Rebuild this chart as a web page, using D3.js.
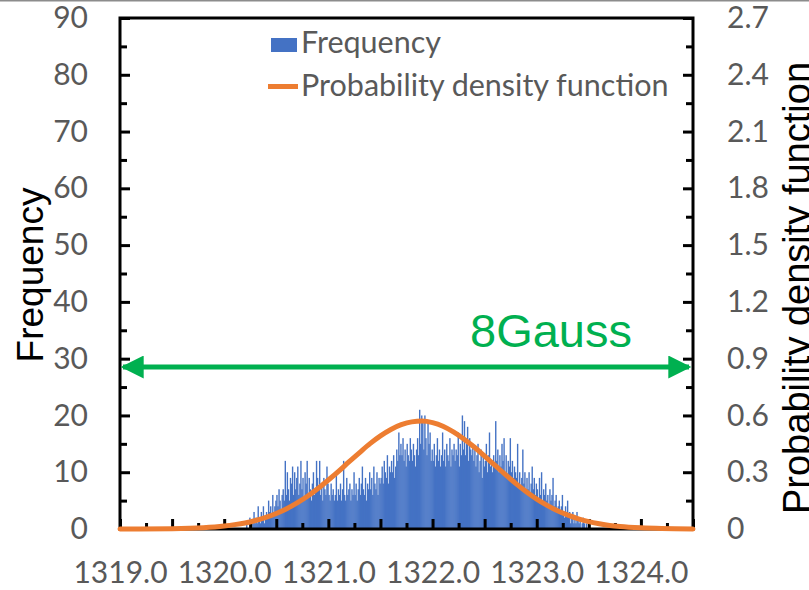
<!DOCTYPE html>
<html>
<head>
<meta charset="utf-8">
<script src="https://cdn.jsdelivr.net/npm/d3@7"></script>
<style>
    body { margin: 0; background: #fff; }
    svg { display: block; }
    .tick text { font-family: Lato, "Open Sans", sans-serif; font-size: 30px; fill: #595959; }
    .tick line { stroke: #000; stroke-width: 3; }
</style>
</head>
<body>
<svg id="chart"></svg>
<script>
// Histogram counts, one per 0.01 wide bin starting at 1320.20.
let binStart = 1320.20;
let binWidth = 0.01;
let counts = [
    0, 1, 0, 0, 2, 1, 0, 1, 3, 1,
    2, 1, 4, 2, 1, 3, 2, 4, 1, 2,
    3, 2, 5, 3, 4, 2, 6, 3, 4, 5,
    6, 4, 7, 5, 3, 6, 7, 5, 12, 6,
    10, 7, 5, 9, 8, 11, 6, 10, 7, 9,
    11, 6, 8, 12, 7, 9, 5, 10, 8, 12,
    6, 9, 7, 5, 8, 10, 6, 7, 12, 9,
    7, 12, 6, 8, 5, 9, 7, 6, 11, 8,
    6, 5, 8, 6, 7, 5, 6, 10, 5, 7,
    6, 8, 5, 7, 12, 6, 5, 9, 6, 7,
    8, 5, 7, 6, 10, 6, 8, 5, 7, 9,
    6, 8, 11, 7, 6, 9, 5, 8, 7, 10,
    7, 9, 6, 11, 8, 7, 10, 6, 9, 8,
    9, 11, 8, 12, 10, 9, 13, 8, 11, 10,
    12, 10, 13, 9, 11, 14, 12, 17, 13, 15,
    13, 16, 12, 14, 11, 15, 13, 12, 16, 14,
    12, 15, 13, 11, 14, 16, 13, 21, 15, 20,
    19, 14, 20, 16, 13, 19, 15, 17, 12, 14,
    12, 15, 11, 13, 16, 12, 14, 11, 13, 17,
    12, 14, 11, 15, 13, 12, 16, 11, 14, 13,
    15, 12, 14, 13, 17, 11, 15, 13, 20, 14,
    19, 13, 15, 18, 12, 16, 14, 13, 15, 12,
    14, 11, 13, 15, 10, 12, 14, 9, 13, 11,
    12, 15, 10, 13, 17, 11, 12, 10, 13, 11,
    19, 12, 14, 10, 13, 11, 15, 12, 16, 10,
    13, 9, 12, 11, 16, 10, 12, 9, 11, 10,
    9, 15, 8, 10, 7, 9, 14, 8, 10, 7,
    9, 7, 10, 6, 8, 11, 7, 9, 6, 8,
    7, 5, 9, 6, 10, 5, 7, 6, 8, 5,
    6, 4, 7, 5, 6, 9, 4, 5, 6, 3,
    4, 5, 3, 4, 6, 3, 2, 4, 3, 5,
    2, 3, 1, 2, 3, 1, 2, 1, 3, 2,
    1, 2, 0, 1, 2, 1, 0, 1, 0, 1
];

// Probability density function.
let pdfX = [1319.0, 1319.5, 1319.8, 1320.0, 1320.1, 1320.2, 1320.3, 1320.4, 1320.5, 1320.6,
    1320.7, 1320.8, 1320.9, 1321.0, 1321.1, 1321.2, 1321.3, 1321.4, 1321.5, 1321.6,
    1321.7, 1321.8, 1321.9, 1322.0, 1322.1, 1322.2, 1322.3, 1322.4, 1322.5, 1322.6,
    1322.7, 1322.8, 1322.9, 1323.0, 1323.1, 1323.2, 1323.3, 1323.4, 1323.5, 1323.6,
    1323.7, 1323.8, 1324.0, 1324.2, 1324.5];
let pdfY = [0.0001, 0.0018, 0.007, 0.016, 0.023, 0.032, 0.045, 0.061, 0.082, 0.107,
    0.138, 0.173, 0.214, 0.259, 0.306, 0.356, 0.404, 0.451, 0.492, 0.526,
    0.551, 0.566, 0.570, 0.562, 0.543, 0.513, 0.476, 0.433, 0.385, 0.336,
    0.287, 0.240, 0.197, 0.158, 0.125, 0.096, 0.073, 0.054, 0.039, 0.028,
    0.019, 0.013, 0.006, 0.0024, 0.0005];

let xTicks = [1319.0, 1320.0, 1321.0, 1322.0, 1323.0, 1324.0];
let leftTicks = [0, 10, 20, 30, 40, 50, 60, 70, 80, 90];
let rightTicks = [0, 0.3, 0.6, 0.9, 1.2, 1.5, 1.8, 2.1, 2.4, 2.7];

let svgWidth = 809;
let svgHeight = 590;
let margin = {top: 18, bottom: 61, left: 120, right: 116};
let viewWidth = svgWidth - margin.left - margin.right;
let viewHeight = svgHeight - margin.top - margin.bottom;

let svg = d3.select("#chart")
    .attr("width", svgWidth)
    .attr("height", svgHeight);

// thin gray frame line along the top of the picture
svg.append("line")
    .attr("x1", 0).attr("x2", svgWidth)
    .attr("y1", 0.75).attr("y2", 0.75)
    .attr("stroke", "#8c8c8c")
    .attr("stroke-width", 1.5);

let view = svg.append("g")
    .attr("transform", `translate(${margin.left},${margin.top})`);

let xScale = d3.scaleLinear().domain([1319.0, 1324.5]).range([0, viewWidth]);
let yScale = d3.scaleLinear().domain([0, 90]).range([viewHeight, 0]);
let y2Scale = d3.scaleLinear().domain([0, 2.7]).range([viewHeight, 0]);

// histogram bars, slightly overlapping so the fill reads solid
let bins = counts.map((c, i) => ({x0: binStart + i * binWidth, count: c}));
let barW = (xScale(binStart + binWidth) - xScale(binStart)) + 0.35;
view.append("g")
    .selectAll("rect")
    .data(bins)
    .join("rect")
    .attr("x", d => xScale(d.x0))
    .attr("y", d => yScale(d.count))
    .attr("width", barW)
    .attr("height", d => viewHeight - yScale(d.count))
    .attr("fill", "#4472C4");

// axes
let fmtX = d => xTicks.includes(d) ? d3.format(".1f")(d) : "";
let halfTicks = d3.range(0, 12).map(i => 1319 + i * 0.5);
let quarterTicks = d3.range(0, 11).map(i => 1319.25 + i * 0.5);

view.append("g")
    .attr("transform", `translate(0,${viewHeight})`)
    .call(d3.axisBottom(xScale).tickValues(halfTicks).tickSize(-10).tickPadding(33).tickFormat(fmtX));
view.append("g")
    .attr("transform", `translate(0,${viewHeight})`)
    .call(d3.axisBottom(xScale).tickValues(quarterTicks).tickSize(-6).tickFormat(""));

view.append("g")
    .call(d3.axisLeft(yScale).tickValues(leftTicks).tickSize(-10).tickPadding(32).tickFormat(d3.format("d")));
view.append("g")
    .call(d3.axisLeft(yScale).tickValues(leftTicks.slice(0, -1).map(d => d + 5)).tickSize(-7).tickFormat(""));

view.append("g")
    .attr("transform", `translate(${viewWidth},0)`)
    .call(d3.axisRight(y2Scale).tickValues(rightTicks).tickSize(-10).tickPadding(34)
        .tickFormat(d => d === 0 ? "0" : d3.format(".1f")(d)));
view.append("g")
    .attr("transform", `translate(${viewWidth},0)`)
    .call(d3.axisRight(y2Scale).tickValues(rightTicks.slice(0, -1).map(d => d + 0.15)).tickSize(-7).tickFormat(""));

view.selectAll(".domain").remove();

view.append("rect")
    .attr("width", viewWidth)
    .attr("height", viewHeight)
    .attr("fill", "none")
    .attr("stroke", "#000")
    .attr("stroke-width", 3);

// pdf curve, drawn over the axis
let line = d3.line()
    .x((d, i) => xScale(pdfX[i]))
    .y(d => y2Scale(d))
    .curve(d3.curveMonotoneX);
view.append("path")
    .datum(pdfY)
    .attr("d", line)
    .attr("fill", "none")
    .attr("stroke", "#ED7D31")
    .attr("stroke-width", 5)
    .attr("stroke-linecap", "round");

// legend
let legend = svg.append("g")
    .style("font-family", "Lato, 'Open Sans', sans-serif")
    .style("font-size", "30.5px")
    .attr("fill", "#595959");
legend.append("rect")
    .attr("x", 271).attr("y", 38)
    .attr("width", 26).attr("height", 14)
    .attr("fill", "#4472C4");
legend.append("text").attr("x", 301).attr("y", 53).text("Frequency");
legend.append("line")
    .attr("x1", 268).attr("x2", 298)
    .attr("y1", 86.5).attr("y2", 86.5)
    .attr("stroke", "#ED7D31")
    .attr("stroke-width", 5);
legend.append("text").attr("x", 301).attr("y", 96).text("Probability density function");

// axis titles
svg.append("text")
    .attr("transform", "translate(43,275) rotate(-90)")
    .attr("text-anchor", "middle")
    .style("font-family", "'Liberation Sans', Arial, sans-serif")
    .style("font-size", "37px")
    .attr("fill", "#000")
    .text("Frequency");
svg.append("text")
    .attr("transform", "translate(810,288) rotate(-90)")
    .attr("text-anchor", "middle")
    .style("font-family", "'Liberation Sans', Arial, sans-serif")
    .style("font-size", "38px")
    .attr("fill", "#000")
    .text("Probability density function");

// 8 sigma span annotation
let green = "#00B050";
let defs = svg.append("defs");
defs.append("marker")
    .attr("id", "head")
    .attr("viewBox", "0 0 10 10")
    .attr("refX", 9).attr("refY", 5)
    .attr("markerWidth", 5).attr("markerHeight", 4.6)
    .attr("orient", "auto-start-reverse")
    .append("path")
    .attr("d", "M0,0L10,5L0,10z")
    .attr("fill", green);
svg.append("line")
    .attr("x1", 123).attr("x2", 689)
    .attr("y1", 367).attr("y2", 367)
    .attr("stroke", green)
    .attr("stroke-width", 5)
    .attr("marker-start", "url(#head)")
    .attr("marker-end", "url(#head)");
svg.append("text")
    .attr("x", 470).attr("y", 347)
    .style("font-family", "'Liberation Sans', Arial, sans-serif")
    .style("font-size", "47px")
    .attr("fill", green)
    .text("8Gauss");
</script>
</body>
</html>
